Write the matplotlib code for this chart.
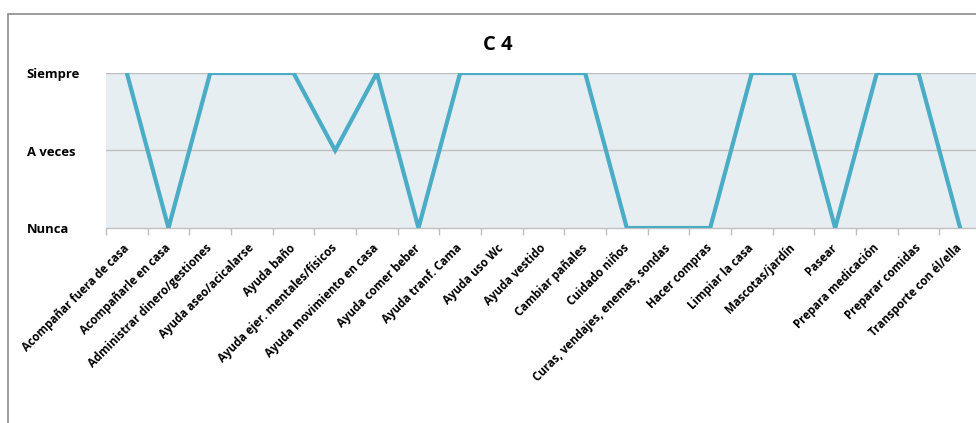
import matplotlib
matplotlib.use("Agg")
import matplotlib.pyplot as plt
from matplotlib.patches import Rectangle
import numpy as np

plt.rcParams['font.family'] = ['Open Sans', 'DejaVu Sans']

categories = [
    "Acompañar fuera de casa", "Acompañarle en casa", "Administrar dinero/gestiones",
    "Ayuda aseo/acicalarse", "Ayuda baño", "Ayuda ejer. mentales/físicos",
    "Ayuda movimiento en casa", "Ayuda comer beber", "Ayuda tranf. Cama",
    "Ayuda uso Wc", "Ayuda vestido", "Cambiar pañales", "Cuidado niños",
    "Curas, vendajes, enemas, sondas", "Hacer compras", "Limpiar la casa",
    "Mascotas/jardín", "Pasear", "Prepara medicación", "Preparar comidas",
    "Transporte con él/ella",
]
levels = ["Nunca", "A veces", "Siempre"]
values = [2, 0, 2, 2, 2, 1, 2, 0, 2, 2, 2, 2, 0, 0, 0, 2, 2, 0, 2, 2, 0]

W, H = 976, 423
fig = plt.figure(figsize=(W / 100, H / 100), dpi=100)
fig.patch.set_facecolor("white")

# outer chart frame
fig.patches.append(Rectangle((8 / W, -0.2), 1.2, 1.2 - 14 / H,
                             transform=fig.transFigure, fill=False,
                             edgecolor="#8c8c8c", linewidth=1.2, zorder=0))

left, right = 106 / W, 981 / W
bottom, top = 1 - 228 / H, 1 - 73 / H
ax = fig.add_axes([left, bottom, right - left, top - bottom])
ax.set_facecolor("#E7EEF2")

n = len(categories)
x = np.arange(n)
ax.plot(x, values, color="#4BACC6", linewidth=3.0, solid_joinstyle="miter", zorder=3)

ax.set_xlim(-0.5, n - 0.5)
ax.set_ylim(0, 2)

for y in (1, 2):
    ax.axhline(y, color="#BFBFBF", linewidth=1.0, zorder=1)

for s in ("top", "right", "left"):
    ax.spines[s].set_visible(False)
ax.spines["bottom"].set_color("#BFBFBF")
ax.spines["bottom"].set_linewidth(1.0)

ax.set_xticks(np.arange(n + 1) - 0.5, minor=False)
ax.set_xticklabels([])
ax.tick_params(axis="x", which="major", direction="out", length=5, color="#BFBFBF", width=1)
ax.set_xticks(x, minor=True)
ax.set_xticklabels(categories, minor=True, rotation=45, ha="right",
                   rotation_mode="anchor", fontsize=8.3, fontweight="bold")
ax.tick_params(axis="x", which="minor", length=0, pad=13)
for lbl in ax.get_xticklabels(minor=True):
    lbl.set_va("center")

ax.set_yticks([0, 1, 2])
ax.set_yticklabels(levels, fontsize=9.4, fontweight="bold")
ax.tick_params(axis="y", length=0, pad=57)
for lbl in ax.get_yticklabels():
    lbl.set_ha("left")

fig.text(498 / W, 1 - 45 / H, "C 4", ha="center", va="center",
         fontsize=14.5, fontweight="bold")

fig.savefig("out.png", dpi=100)
